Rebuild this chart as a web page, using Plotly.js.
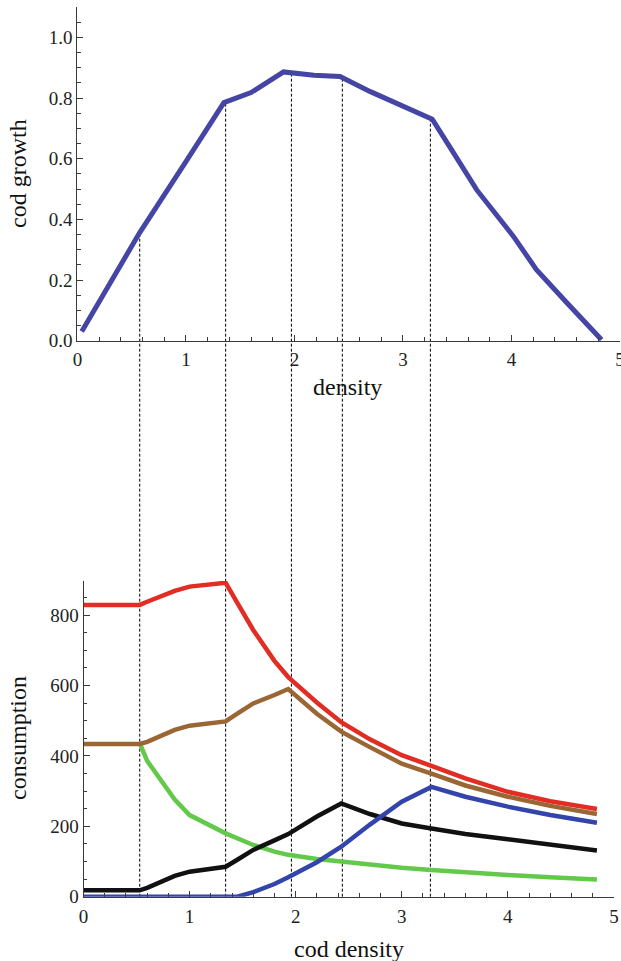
<!DOCTYPE html>
<html>
<head>
<meta charset="utf-8">
<script src="https://cdn.plot.ly/plotly-3.0.1.min.js"></script>
<style>html,body{margin:0;padding:0;background:#fff;}</style>
</head>
<body>
<div id="chart" style="width:621px;height:961px;"></div>
<script>
// ---- top panel: cod growth vs density ----
const growthX = [0.04, 0.57, 1.0, 1.35, 1.6, 1.90, 2.18, 2.42, 2.7, 3.0, 3.27, 3.45, 3.68, 4.02, 4.23, 4.51, 4.83];
const growthY = [0.03, 0.354, 0.59, 0.785, 0.818, 0.886, 0.875, 0.871, 0.821, 0.775, 0.730, 0.628, 0.497, 0.343, 0.234, 0.125, 0.003];

// ---- bottom panel: consumption vs cod density ----
const densityX = [0, 0.53, 0.6, 0.86, 1.0, 1.34, 1.45, 1.6, 1.8, 1.93, 2.2, 2.43, 2.7, 3.0, 3.28, 3.6, 4.0, 4.4, 4.84];
const redY   = [829, 829, 838, 869, 881, 892, 835, 758, 670, 624, 552, 496, 447, 402, 372, 336, 298, 271, 249];
const brownY = [434, 434, 440, 474, 486, 498, 520, 549, 573, 590, 520, 469, 425, 378, 350, 316, 284, 258, 235];
const greenY = [null, 436, 386, 276, 232, 180, 165, 147, 128, 119, 107, 99, 90, 82, 76, 69, 62, 55, 49];
const blackY = [18, 18, 25, 59, 71, 85, 105, 133, 160, 178, 228, 265, 235, 208, 194, 178, 163, 148, 131];
const blueY  = [0, 0, 0, 0, 0, 0, 0, 13, 36, 55, 98, 142, 205, 270, 312, 284, 256, 232, 210];

// breakpoints (dashed lines), in cod density units
const breakX = [0.53, 1.34, 1.96, 2.44, 3.27];

const xTicks = [0, 1, 2, 3, 4, 5];
const xTickText = ['0', '1', '2', '3', '4', '5'];
const growthTicks = [0, 0.2, 0.4, 0.6, 0.8, 1.0];
const growthTickText = ['0.0', '0.2', '0.4', '0.6', '0.8', '1.0'];
const consTicks = [0, 200, 400, 600, 800];
const consTickText = ['0', '200', '400', '600', '800'];

// ---- geometry ----
const W = 621, H = 961;
const topXDom = [77.4 / W, 620.1 / W];
const topYDom = [(H - 340.7) / H, (H - 7) / H];
const botXDom = [83.5 / W, 614 / W];
const botYDom = [(H - 896.7) / H, (H - 581) / H];
const topXRange = [0, 5.001], topYRange = [0, 1.1];
const botXRange = [0, 5.001], botYRange = [0, 897];

function interp(xs, ys, t) {
  if (t <= xs[0]) return ys[0];
  for (let i = 1; i < xs.length; i++) {
    if (t <= xs[i]) {
      const f = (t - xs[i - 1]) / (xs[i] - xs[i - 1]);
      return ys[i - 1] + f * (ys[i] - ys[i - 1]);
    }
  }
  return ys[ys.length - 1];
}
// convert a bottom-axis x value to the top-axis x value at the same horizontal position
function botToTopX(b) {
  const paperX = botXDom[0] + (b - botXRange[0]) / (botXRange[1] - botXRange[0]) * (botXDom[1] - botXDom[0]);
  return topXRange[0] + (paperX - topXDom[0]) / (topXDom[1] - topXDom[0]) * (topXRange[1] - topXRange[0]);
}
function topYToPaper(v) {
  return topYDom[0] + (v - topYRange[0]) / (topYRange[1] - topYRange[0]) * (topYDom[1] - topYDom[0]);
}

const serif = '"Liberation Serif", "Times New Roman", serif';
const axisColor = '#3a3a3a';
const tickFont = {family: serif, size: 19, color: '#222'};

function axisBase(extra) {
  return Object.assign({
    showline: true, linecolor: axisColor, linewidth: 1,
    ticks: 'inside', ticklen: 6, tickwidth: 1, tickcolor: axisColor,
    showgrid: false, zeroline: false, fixedrange: true,
    ticklabeloverflow: 'allow',
    tickfont: tickFont,
  }, extra);
}

const traces = [
  {x: growthX, y: growthY, xaxis: 'x', yaxis: 'y', mode: 'lines',
   line: {color: '#4545A6', width: 5}, hoverinfo: 'skip'},
  {x: densityX, y: greenY, xaxis: 'x2', yaxis: 'y2', mode: 'lines',
   line: {color: '#63C94B', width: 4.5}, hoverinfo: 'skip'},
  {x: densityX, y: blackY, xaxis: 'x2', yaxis: 'y2', mode: 'lines',
   line: {color: '#111111', width: 4.5}, hoverinfo: 'skip'},
  {x: densityX, y: blueY, xaxis: 'x2', yaxis: 'y2', mode: 'lines',
   line: {color: '#3344AA', width: 4.5}, hoverinfo: 'skip'},
  {x: densityX, y: brownY, xaxis: 'x2', yaxis: 'y2', mode: 'lines',
   line: {color: '#9A6634', width: 4.5}, hoverinfo: 'skip'},
  {x: densityX, y: redY, xaxis: 'x2', yaxis: 'y2', mode: 'lines',
   line: {color: '#E12D24', width: 4.5}, hoverinfo: 'skip'},
];

const shapes = breakX.map(b => ({
  type: 'line', layer: 'below', xref: 'x2', yref: 'paper',
  x0: b, x1: b,
  y0: botYDom[0],
  y1: topYToPaper(interp(growthX, growthY, botToTopX(b))),
  line: {color: '#000', width: 1, dash: '3px,2px'}
}));

const titleFont = {family: serif, size: 24, color: '#111'};
const annotations = [
  {text: 'cod growth', x: 18 / W, y: 1 - 174 / H, textangle: -90},
  {text: 'density', x: 347.5 / W, y: 1 - 387 / H},
  {text: 'consumption', x: 18 / W, y: 1 - 738 / H, textangle: -90},
  {text: 'cod density', x: 348.6 / W, y: 1 - 949 / H},
].map(a => Object.assign({xref: 'paper', yref: 'paper', showarrow: false,
  xanchor: 'center', yanchor: 'middle', font: titleFont}, a));

const layout = {
  width: W, height: H,
  margin: {l: 0, r: 0, t: 0, b: 0},
  font: tickFont,
  paper_bgcolor: '#fff', plot_bgcolor: 'rgba(0,0,0,0)',
  showlegend: false,
  xaxis: axisBase({domain: topXDom, range: topXRange, anchor: 'y',
    tickvals: xTicks, ticktext: xTickText, ticklabelstandoff: 1,
    minor: {ticks: 'inside', ticklen: 3.5, dtick: 0.2, tickcolor: axisColor}}),
  yaxis: axisBase({domain: topYDom, range: topYRange, anchor: 'x',
    tickvals: growthTicks, ticktext: growthTickText,
    minor: {ticks: 'inside', ticklen: 3.5, dtick: 0.05, tickcolor: axisColor}}),
  xaxis2: axisBase({domain: botXDom, range: botXRange, anchor: 'y2',
    tickvals: xTicks, ticktext: xTickText, ticklabelstandoff: 2,
    minor: {ticks: 'inside', ticklen: 3.5, dtick: 0.2, tickcolor: axisColor}}),
  yaxis2: axisBase({domain: botYDom, range: botYRange, anchor: 'x2',
    tickvals: consTicks, ticktext: consTickText,
    minor: {ticks: 'inside', ticklen: 3.5, dtick: 50, tickcolor: axisColor}}),
  shapes: shapes,
  annotations: annotations,
};

Plotly.newPlot('chart', traces, layout, {displayModeBar: false, staticPlot: true});
</script>
</body>
</html>
